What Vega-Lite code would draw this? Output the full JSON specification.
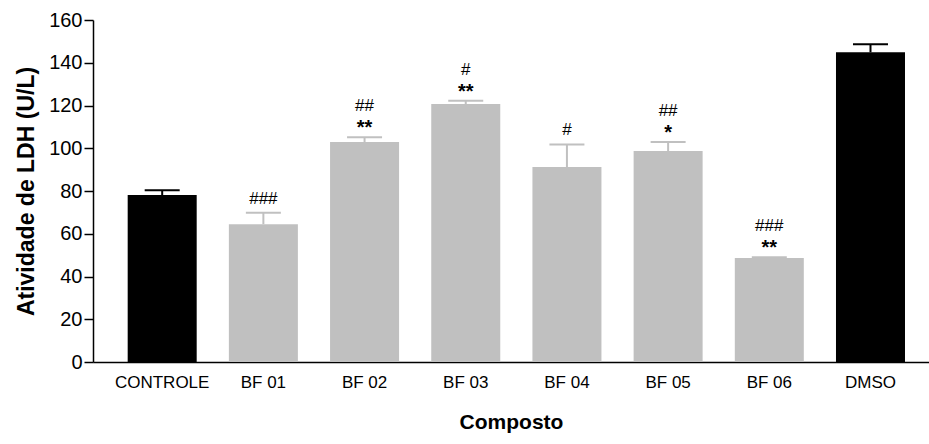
{
  "$schema": "https://vega.github.io/schema/vega-lite/v6.json",
  "width": 836,
  "height": 342,
  "autosize": {"type": "none"},
  "padding": {"left": 93, "top": 20, "right": 0, "bottom": 82},
  "background": "white",
  "config": {"view": {"stroke": null}, "font": "Liberation Sans"},
  "data": {
    "values": [
      {"composto": "CONTROLE", "grupo": "controle", "media": 78.1, "superior": 80.4, "estrela": "", "hashPerto": "", "hashLonge": ""},
      {"composto": "BF 01", "grupo": "composto", "media": 64.5, "superior": 69.8, "estrela": "", "hashPerto": "###", "hashLonge": ""},
      {"composto": "BF 02", "grupo": "composto", "media": 102.9, "superior": 105.1, "estrela": "**", "hashPerto": "", "hashLonge": "##"},
      {"composto": "BF 03", "grupo": "composto", "media": 120.7, "superior": 122.2, "estrela": "**", "hashPerto": "", "hashLonge": "#"},
      {"composto": "BF 04", "grupo": "composto", "media": 91.2, "superior": 101.8, "estrela": "", "hashPerto": "#", "hashLonge": ""},
      {"composto": "BF 05", "grupo": "composto", "media": 98.7, "superior": 102.9, "estrela": "*", "hashPerto": "", "hashLonge": "##"},
      {"composto": "BF 06", "grupo": "composto", "media": 48.6, "superior": 49.0, "estrela": "**", "hashPerto": "", "hashLonge": "###"},
      {"composto": "DMSO", "grupo": "controle", "media": 144.9, "superior": 148.6, "estrela": "", "hashPerto": "", "hashLonge": ""}
    ]
  },
  "encoding": {
    "x": {
      "field": "composto",
      "type": "nominal",
      "sort": null,
      "scale": {"paddingInner": 0.318, "paddingOuter": 0.29, "align": 0.591, "round": false},
      "axis": {
        "title": "Composto",
        "titleFontSize": 21,
        "titleFontWeight": "bold",
        "titleColor": "black",
        "titlePadding": 21,
        "labelFontSize": 17,
        "labelColor": "black",
        "labelAngle": 0,
        "labelPadding": 12,
        "ticks": false,
        "domainColor": "black",
        "domainWidth": 1.5
      }
    }
  },
  "layer": [
    {
      "mark": {"type": "bar"},
      "encoding": {
        "y": {
          "field": "media",
          "type": "quantitative",
          "scale": {"domain": [0, 160], "nice": false},
          "axis": {
            "title": "Atividade de LDH (U/L)",
            "titleFontSize": 23,
            "titleFontWeight": "bold",
            "titleColor": "black",
            "titlePadding": 10,
            "labelFontSize": 20,
            "labelColor": "black",
            "labelPadding": 2,
            "values": [0, 20, 40, 60, 80, 100, 120, 140, 160],
            "tickSize": 9,
            "tickWidth": 1.5,
            "tickColor": "black",
            "domainColor": "black",
            "domainWidth": 1.5,
            "grid": false
          }
        },
        "color": {
          "field": "grupo",
          "type": "nominal",
          "scale": {"domain": ["controle", "composto"], "range": ["#000000", "#c0c0c0"]},
          "legend": null
        }
      }
    },
    {
      "mark": {"type": "rule", "strokeWidth": 2},
      "encoding": {
        "y": {"field": "media", "type": "quantitative"},
        "y2": {"field": "superior"},
        "color": {"field": "grupo", "type": "nominal", "scale": {"domain": ["controle", "composto"], "range": ["#000000", "#c0c0c0"]}, "legend": null}
      }
    },
    {
      "mark": {"type": "tick", "size": 35, "thickness": 2, "opacity": 1},
      "encoding": {
        "y": {"field": "superior", "type": "quantitative"},
        "color": {"field": "grupo", "type": "nominal", "scale": {"domain": ["controle", "composto"], "range": ["#000000", "#c0c0c0"]}, "legend": null}
      }
    },
    {
      "mark": {"type": "text", "baseline": "alphabetic", "dy": -3, "fontSize": 20, "fontWeight": "bold", "color": "black"},
      "encoding": {
        "y": {"field": "superior", "type": "quantitative"},
        "text": {"field": "estrela"}
      }
    },
    {
      "mark": {"type": "text", "baseline": "alphabetic", "dy": -9, "fontSize": 17, "color": "black"},
      "encoding": {
        "y": {"field": "superior", "type": "quantitative"},
        "text": {"field": "hashPerto"}
      }
    },
    {
      "mark": {"type": "text", "baseline": "alphabetic", "dy": -26, "fontSize": 17, "color": "black"},
      "encoding": {
        "y": {"field": "superior", "type": "quantitative"},
        "text": {"field": "hashLonge"}
      }
    }
  ]
}
